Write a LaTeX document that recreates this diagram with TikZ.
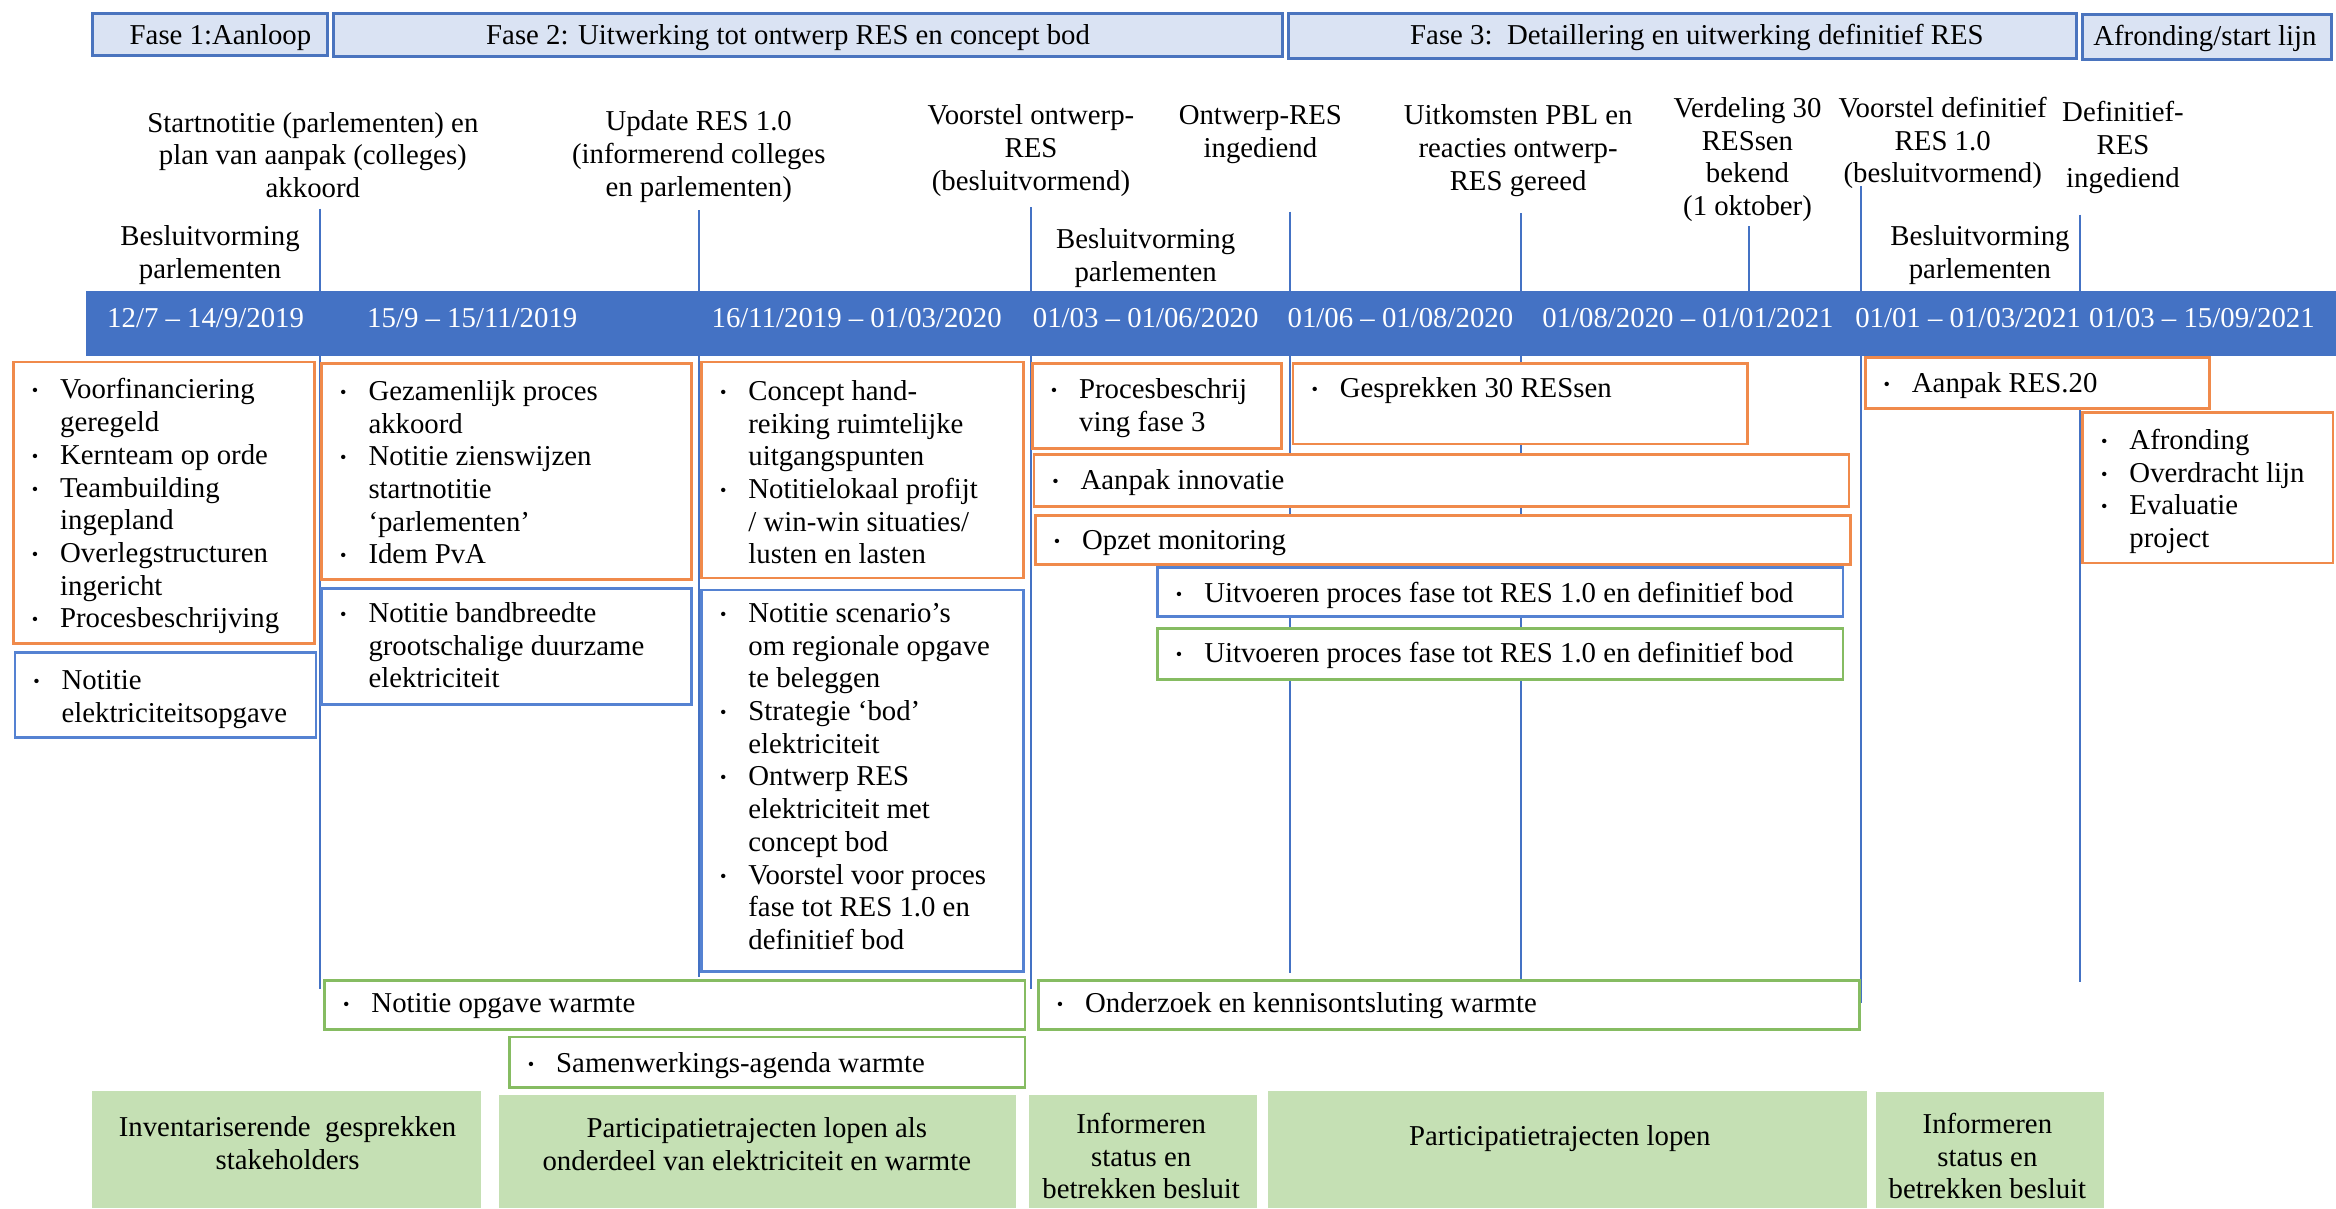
\documentclass[tikz,border=0pt]{standalone}
\usepackage{fontspec}
\setmainfont{Liberation Serif}
\usepackage{tikz}
\usetikzlibrary{positioning}

\definecolor{barblue}{HTML}{4472C4}
\definecolor{phaseline}{HTML}{4A74BE}
\definecolor{phasefill}{HTML}{DAE3F3}
\definecolor{boxorange}{HTML}{F08A4B}
\definecolor{boxblue}{HTML}{5582D2}
\definecolor{boxgreen}{HTML}{86BC62}
\definecolor{fillgreen}{HTML}{C5E0B4}

\newcommand{\resfont}{\fontsize{11}{12.5}\selectfont}
\newcommand{\twrap}[1]{\begin{tabular}{@{}c@{}}#1\end{tabular}}
\newcommand{\bwrap}[1]{\begin{tabular}{@{}p{0.38cm}@{}l@{}}#1\end{tabular}}
\newcommand{\bulsym}{\raisebox{0.15ex}{\scriptsize\textbullet}}

\begin{document}
\begin{tikzpicture}[x=0.02cm, y=-0.02cm]
		\tikzset{
			phase/.style={draw=phaseline, fill=phasefill, line width=1.1pt},
			oran/.style={draw=boxorange, fill=white, line width=1pt},
			blu/.style={draw=boxblue, fill=white, line width=1pt},
			grnline/.style={draw=boxgreen, fill=white, line width=1pt},
			grnfill/.style={fill=fillgreen},
			mile/.style={draw=barblue, line width=0.8pt},
			txt/.style={anchor=north west, inner sep=0pt, font=\resfont},
			ctxt/.style={anchor=north, inner sep=0pt, font=\resfont},
			datum/.style={ctxt, text=white}
		}
		\useasboundingbox (0,0) rectangle (1568,811);

		% PHASES (top row)
		\draw[phase] (62,9) rectangle (220,37);
		\node[ctxt] (fase1) at (148,14) {\twrap{Fase 1:Aanloop}};
		\draw[phase] (224,9) rectangle (861,38);
		\node[ctxt] (fase2) at (529,14) {\twrap{Fase 2: Uitwerking tot ontwerp RES en concept bod}};
		\draw[phase] (865,9) rectangle (1394,39);
		\node[ctxt] (fase3) at (1139,14) {\twrap{Fase 3:\ \ Detaillering en uitwerking definitief RES}};
		\draw[phase] (1398,10) rectangle (1565,40);
		\node[ctxt] (afronding) at (1480,15) {\twrap{Afronding/start lijn}};

		% Milestone lines (behind the boxes)
		\draw[mile] (215,140) -- (215,664);
		\draw[mile] (469,141) -- (469,656);
		\draw[mile] (692,139) -- (692,664);
		\draw[mile] (866,142) -- (866,653);
		\draw[mile] (1021,143) -- (1021,658);
		\draw[mile] (1174,152) -- (1174,195);
		\draw[mile] (1249,125) -- (1249,673);
		\draw[mile] (1396,144) -- (1396,659);

		% Milestones
		\node[ctxt] (startnotitie) at (210,73) {\twrap{Startnotitie (parlementen) en\\plan van aanpak (colleges)\\akkoord}};
		\node[ctxt] (update) at (469,72) {\twrap{Update RES 1.0\\(informerend colleges\\en parlementen)}};
		\node[ctxt] (voorstel1) at (692,68) {\twrap{Voorstel ontwerp-\\RES\\(besluitvormend)}};
		\node[ctxt] (ingediend1) at (846,68) {\twrap{Ontwerp-RES\\ingediend}};
		\node[ctxt] (pbl) at (1019,68) {\twrap{Uitkomsten PBL en\\reacties ontwerp-\\RES gereed}};
		\node[ctxt] (verdeling) at (1173,63) {\twrap{Verdeling 30\\RESsen\\bekend\\(1 oktober)}};
		\node[ctxt] (voorstel2) at (1304,63) {\twrap{Voorstel definitief\\RES 1.0\\(besluitvormend)}};
		\node[ctxt] (ingediend2) at (1425,66) {\twrap{Definitief-\\RES\\ingediend}};
		\node[ctxt] (besluit1) at (141,149) {\twrap{Besluitvorming\\parlementen}};
		\node[ctxt] (besluit2) at (769,151) {\twrap{Besluitvorming\\parlementen}};
		\node[ctxt] (besluit3) at (1329,149) {\twrap{Besluitvorming\\parlementen}};

		% TIMELINE BAR
		\fill[barblue] (58,195) rectangle (1568,239);
		\node[datum] (d1) at (138,204) {\twrap{12/7 – 14/9/2019}};
		\node[datum] (d2) at (317,204) {\twrap{15/9 – 15/11/2019}};
		\node[datum] (d3) at (575,204) {\twrap{16/11/2019 – 01/03/2020}};
		\node[datum] (d4) at (769,204) {\twrap{01/03 – 01/06/2020}};
		\node[datum] (d5) at (940,204) {\twrap{01/06 – 01/08/2020}};
		\node[datum] (d6) at (1133,204) {\twrap{01/08/2020 – 01/01/2021}};
		\node[datum] (d7) at (1321,204) {\twrap{01/01 – 01/03/2021}};
		\node[datum] (d8) at (1478,204) {\twrap{01/03 – 15/09/2021}};

		% Orange boxes
		\draw[oran] (9,243) rectangle (211,432);
		\node[txt] (o1) at (21,252) {\bwrap{\bulsym & Voorfinanciering\\ & geregeld\\ \bulsym & Kernteam op orde\\ \bulsym & Teambuilding\\ & ingepland\\ \bulsym & Overlegstructuren\\ & ingericht\\ \bulsym & Procesbeschrijving}};
		\draw[oran] (216,244) rectangle (464,389);
		\node[txt] (o2) at (228,253) {\bwrap{\bulsym & Gezamenlijk proces\\ & akkoord\\ \bulsym & Notitie zienswijzen\\ & startnotitie\\ & ‘parlementen’\\ \bulsym & Idem PvA}};
		\draw[oran] (471,243) rectangle (687,388);
		\node[txt] (o3) at (483,253) {\bwrap{\bulsym & Concept hand-\\ & reiking ruimtelijke\\ & uitgangspunten\\ \bulsym & Notitielokaal profijt\\ & / win-win situaties/\\ & lusten en lasten}};
		\draw[oran] (693,244) rectangle (860,301);
		\node[txt] (o4) at (705,252) {\bwrap{\bulsym & Procesbeschrij\\ & ving fase 3}};
		\draw[oran] (868,244) rectangle (1173,298);
		\node[txt] (o5) at (880,251) {\bwrap{\bulsym & Gesprekken 30 RESsen}};
		\draw[oran] (694,305) rectangle (1241,340);
		\node[txt] (o6) at (706,313) {\bwrap{\bulsym & Aanpak innovatie}};
		\draw[oran] (695,346) rectangle (1242,379);
		\node[txt] (o7) at (707,353) {\bwrap{\bulsym & Opzet monitoring}};
		\draw[oran] (1252,240) rectangle (1483,274);
		\node[txt] (o8) at (1264,248) {\bwrap{\bulsym & Aanpak RES.20}};
		\draw[oran] (1398,277) rectangle (1566,378);
		\node[txt] (o9) at (1410,286) {\bwrap{\bulsym & Afronding\\ \bulsym & Overdracht lijn\\ \bulsym & Evaluatie\\ & project}};

		% Blue boxes
		\draw[blu] (10,438) rectangle (212,495);
		\node[txt] (b1) at (22,447) {\bwrap{\bulsym & Notitie\\ & elektriciteitsopgave}};
		\draw[blu] (216,395) rectangle (464,473);
		\node[txt] (b2) at (228,402) {\bwrap{\bulsym & Notitie bandbreedte\\ & grootschalige duurzame\\ & elektriciteit}};
		\draw[blu] (471,396) rectangle (687,652);
		\node[txt] (b3) at (483,402) {\bwrap{\bulsym & Notitie scenario’s\\ & om regionale opgave\\ & te beleggen\\ \bulsym & Strategie ‘bod’\\ & elektriciteit\\ \bulsym & Ontwerp RES\\ & elektriciteit met\\ & concept bod\\ \bulsym & Voorstel voor proces\\ & fase tot RES 1.0 en\\ & definitief bod}};
		\draw[blu] (777,381) rectangle (1237,414);
		\node[txt] (b4) at (789,389) {\bwrap{\bulsym & Uitvoeren proces fase tot RES 1.0 en definitief bod}};

		% Green boxes
		\draw[grnline] (777,422) rectangle (1237,456);
		\node[txt] (g1) at (789,429) {\bwrap{\bulsym & Uitvoeren proces fase tot RES 1.0 en definitief bod}};
		\draw[grnline] (218,658) rectangle (688,691);
		\node[txt] (g2) at (230,664) {\bwrap{\bulsym & Notitie opgave warmte}};
		\draw[grnline] (342,696) rectangle (688,730);
		\node[txt] (g3) at (354,704) {\bwrap{\bulsym & Samenwerkings-agenda warmte}};
		\draw[grnline] (697,658) rectangle (1248,691);
		\node[txt] (g4) at (709,664) {\bwrap{\bulsym & Onderzoek en kennisontsluting warmte}};

		% PARTICIPATION (bottom row)
		\fill[grnfill] (62,732) rectangle (323,811);
		\node[ctxt] (part1) at (193,747) {\twrap{Inventariserende\ \ gesprekken\\stakeholders}};
		\fill[grnfill] (335,735) rectangle (682,811);
		\node[ctxt] (part2) at (508,748) {\twrap{Participatietrajecten lopen als\\onderdeel van elektriciteit en warmte}};
		\fill[grnfill] (691,735) rectangle (844,811);
		\node[ctxt] (part3) at (766,745) {\twrap{Informeren\\status en\\betrekken besluit}};
		\fill[grnfill] (851,732) rectangle (1253,811);
		\node[ctxt] (part4) at (1047,753) {\twrap{Participatietrajecten lopen}};
		\fill[grnfill] (1259,733) rectangle (1412,811);
		\node[ctxt] (part5) at (1334,745) {\twrap{Informeren\\status en\\betrekken besluit}};

	\end{tikzpicture}
\end{document}
